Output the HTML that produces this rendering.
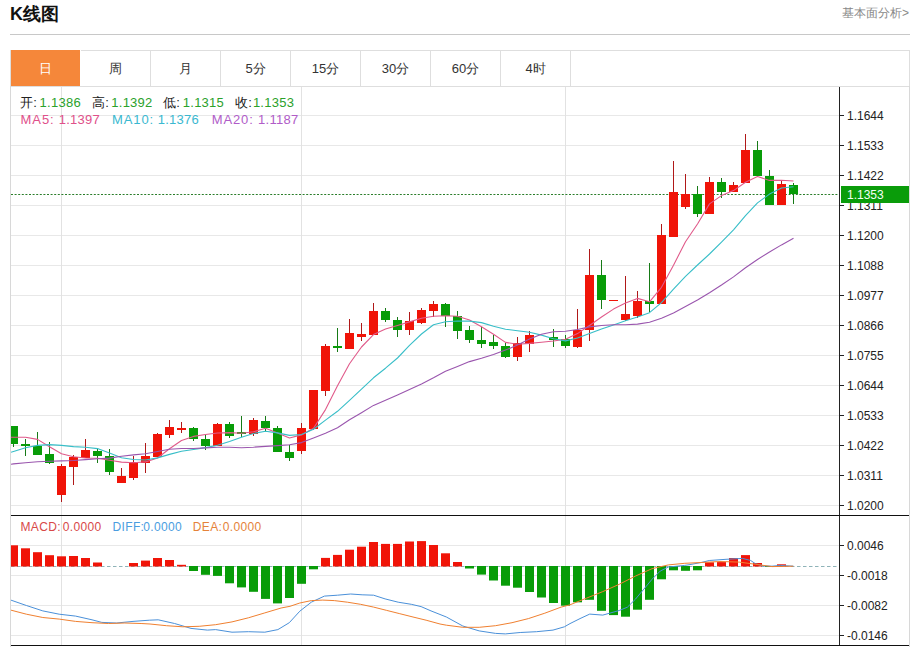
<!DOCTYPE html>
<html><head><meta charset="utf-8"><style>
html,body{margin:0;padding:0;background:#fff;width:915px;height:647px;overflow:hidden;}
body{position:relative;font-family:"Liberation Sans",sans-serif;}
.title{position:absolute;left:10px;top:3px;font-size:18px;font-weight:bold;color:#111;line-height:22px;}
.more{position:absolute;right:6px;top:5px;font-size:12px;color:#888;line-height:16px;}
.hr{position:absolute;left:10px;top:34px;width:900px;height:1px;background:#c8c8c8;}
.tabs{position:absolute;left:10px;top:50px;width:898px;height:35px;border:1px solid #dedede;border-right:1px solid #dedede;}
.tab{position:absolute;top:0;height:35px;width:69px;border-right:1px solid #dedede;text-align:center;line-height:36px;font-size:13px;color:#333;}
.tab.on{background:#f5873a;color:#fff;border-right-color:#fff;top:-1px;height:36px;line-height:38px;}
.frame{position:absolute;left:10px;top:86px;width:898px;height:561px;border-left:1px solid #d8d8d8;border-right:1px solid #d8d8d8;}
svg{position:absolute;left:0;top:0;}
.ax{font-size:12px;fill:#222;font-family:"Liberation Sans",sans-serif;}
.info{position:absolute;font-size:13px;line-height:16px;white-space:pre;letter-spacing:0.25px;} .ls{letter-spacing:0.9px;} .ls8{letter-spacing:0.8px;}
.g{color:#2ba12b} .k{color:#222}
.m{position:absolute;font-size:12px;line-height:14px;white-space:pre;letter-spacing:0.35px;}
</style></head><body>
<div class="title">K线图</div>
<div class="more">基本面分析&gt;</div>
<div class="hr"></div>
<div class="tabs">
<div class="tab on" style="left:0">日</div>
<div class="tab" style="left:70px">周</div>
<div class="tab" style="left:140px">月</div>
<div class="tab" style="left:210px">5分</div>
<div class="tab" style="left:280px">15分</div>
<div class="tab" style="left:350px">30分</div>
<div class="tab" style="left:420px">60分</div>
<div class="tab" style="left:490px">4时</div>
</div>
<div class="frame"></div>
<svg width="915" height="647" viewBox="0 0 915 647">
<rect x="11" y="115" width="828" height="1" fill="#e8e8e8"/>
<rect x="11" y="145" width="828" height="1" fill="#e8e8e8"/>
<rect x="11" y="175" width="828" height="1" fill="#e8e8e8"/>
<rect x="11" y="205" width="828" height="1" fill="#e8e8e8"/>
<rect x="11" y="235" width="828" height="1" fill="#e8e8e8"/>
<rect x="11" y="265" width="828" height="1" fill="#e8e8e8"/>
<rect x="11" y="295" width="828" height="1" fill="#e8e8e8"/>
<rect x="11" y="325" width="828" height="1" fill="#e8e8e8"/>
<rect x="11" y="355" width="828" height="1" fill="#e8e8e8"/>
<rect x="11" y="385" width="828" height="1" fill="#e8e8e8"/>
<rect x="11" y="415" width="828" height="1" fill="#e8e8e8"/>
<rect x="11" y="445" width="828" height="1" fill="#e8e8e8"/>
<rect x="11" y="475" width="828" height="1" fill="#e8e8e8"/>
<rect x="11" y="505" width="828" height="1" fill="#e8e8e8"/>
<rect x="11" y="545" width="828" height="1" fill="#e8e8e8"/>
<rect x="11" y="575" width="828" height="1" fill="#e8e8e8"/>
<rect x="11" y="605" width="828" height="1" fill="#e8e8e8"/>
<rect x="11" y="635" width="828" height="1" fill="#e8e8e8"/>
<rect x="61" y="87" width="1" height="558" fill="#e2e2e2"/>
<rect x="301" y="87" width="1" height="558" fill="#e2e2e2"/>
<rect x="565" y="87" width="1" height="558" fill="#e2e2e2"/>
<line x1="11" y1="194.5" x2="839" y2="194.5" stroke="#2a7d2a" stroke-width="1" stroke-dasharray="2,1.6"/>
<line x1="11" y1="566.5" x2="839" y2="566.5" stroke="#8fb3b8" stroke-width="1" stroke-dasharray="3.5,2.5"/>
<defs><clipPath id="cp"><rect x="11" y="87" width="828" height="428"/></clipPath><clipPath id="cp2"><rect x="11" y="516" width="828" height="129"/></clipPath></defs>
<g clip-path="url(#cp)">
<rect x="13" y="426" width="1" height="21" fill="#167a16"/>
<rect x="9" y="426" width="9" height="18" fill="#089c08"/>
<rect x="25" y="439" width="1" height="17" fill="#167a16"/>
<rect x="21" y="444" width="9" height="2" fill="#089c08"/>
<rect x="37" y="432" width="1" height="23" fill="#167a16"/>
<rect x="33" y="446" width="9" height="9" fill="#089c08"/>
<rect x="49" y="442" width="1" height="22" fill="#167a16"/>
<rect x="45" y="454" width="9" height="9" fill="#089c08"/>
<rect x="61" y="464" width="1" height="38" fill="#b01818"/>
<rect x="57" y="466" width="9" height="29" fill="#f01408"/>
<rect x="73" y="455" width="1" height="30" fill="#b01818"/>
<rect x="69" y="457" width="9" height="10" fill="#f01408"/>
<rect x="85" y="439" width="1" height="19" fill="#b01818"/>
<rect x="81" y="450" width="9" height="8" fill="#f01408"/>
<rect x="97" y="449" width="1" height="14" fill="#167a16"/>
<rect x="93" y="451" width="9" height="5" fill="#089c08"/>
<rect x="109" y="449" width="1" height="26" fill="#167a16"/>
<rect x="105" y="456" width="9" height="16" fill="#089c08"/>
<rect x="121" y="468" width="1" height="15" fill="#b01818"/>
<rect x="117" y="476" width="9" height="7" fill="#f01408"/>
<rect x="133" y="456" width="1" height="24" fill="#b01818"/>
<rect x="129" y="462" width="9" height="16" fill="#f01408"/>
<rect x="145" y="443" width="1" height="30" fill="#b01818"/>
<rect x="141" y="456" width="9" height="7" fill="#f01408"/>
<rect x="157" y="433" width="1" height="24" fill="#b01818"/>
<rect x="153" y="434" width="9" height="23" fill="#f01408"/>
<rect x="169" y="420" width="1" height="18" fill="#b01818"/>
<rect x="165" y="427" width="9" height="8" fill="#f01408"/>
<rect x="181" y="422" width="1" height="11" fill="#b01818"/>
<rect x="177" y="428" width="9" height="2" fill="#f01408"/>
<rect x="193" y="427" width="1" height="14" fill="#167a16"/>
<rect x="189" y="428" width="9" height="11" fill="#089c08"/>
<rect x="205" y="434" width="1" height="16" fill="#167a16"/>
<rect x="201" y="439" width="9" height="7" fill="#089c08"/>
<rect x="217" y="423" width="1" height="23" fill="#b01818"/>
<rect x="213" y="424" width="9" height="22" fill="#f01408"/>
<rect x="229" y="422" width="1" height="16" fill="#167a16"/>
<rect x="225" y="424" width="9" height="12" fill="#089c08"/>
<rect x="241" y="416" width="1" height="21" fill="#167a16"/>
<rect x="237" y="432" width="9" height="2" fill="#089c08"/>
<rect x="253" y="418" width="1" height="18" fill="#b01818"/>
<rect x="249" y="420" width="9" height="14" fill="#f01408"/>
<rect x="265" y="416" width="1" height="15" fill="#167a16"/>
<rect x="261" y="421" width="9" height="7" fill="#089c08"/>
<rect x="277" y="426" width="1" height="26" fill="#167a16"/>
<rect x="273" y="428" width="9" height="24" fill="#089c08"/>
<rect x="289" y="445" width="1" height="16" fill="#167a16"/>
<rect x="285" y="452" width="9" height="6" fill="#089c08"/>
<rect x="301" y="423" width="1" height="31" fill="#b01818"/>
<rect x="297" y="428" width="9" height="23" fill="#f01408"/>
<rect x="313" y="390" width="1" height="40" fill="#b01818"/>
<rect x="309" y="390" width="9" height="39" fill="#f01408"/>
<rect x="325" y="344" width="1" height="52" fill="#b01818"/>
<rect x="321" y="346" width="9" height="45" fill="#f01408"/>
<rect x="337" y="328" width="1" height="24" fill="#167a16"/>
<rect x="333" y="346" width="9" height="2" fill="#089c08"/>
<rect x="349" y="319" width="1" height="30" fill="#b01818"/>
<rect x="345" y="333" width="9" height="16" fill="#f01408"/>
<rect x="361" y="323" width="1" height="18" fill="#b01818"/>
<rect x="357" y="334" width="9" height="3" fill="#f01408"/>
<rect x="373" y="303" width="1" height="32" fill="#b01818"/>
<rect x="369" y="311" width="9" height="24" fill="#f01408"/>
<rect x="385" y="308" width="1" height="14" fill="#167a16"/>
<rect x="381" y="311" width="9" height="9" fill="#089c08"/>
<rect x="397" y="317" width="1" height="20" fill="#167a16"/>
<rect x="393" y="320" width="9" height="10" fill="#089c08"/>
<rect x="409" y="312" width="1" height="23" fill="#b01818"/>
<rect x="405" y="321" width="9" height="9" fill="#f01408"/>
<rect x="421" y="308" width="1" height="16" fill="#b01818"/>
<rect x="417" y="310" width="9" height="13" fill="#f01408"/>
<rect x="433" y="301" width="1" height="16" fill="#b01818"/>
<rect x="429" y="304" width="9" height="7" fill="#f01408"/>
<rect x="445" y="303" width="1" height="24" fill="#167a16"/>
<rect x="441" y="304" width="9" height="12" fill="#089c08"/>
<rect x="457" y="311" width="1" height="28" fill="#167a16"/>
<rect x="453" y="316" width="9" height="15" fill="#089c08"/>
<rect x="469" y="326" width="1" height="17" fill="#167a16"/>
<rect x="465" y="330" width="9" height="10" fill="#089c08"/>
<rect x="481" y="327" width="1" height="21" fill="#167a16"/>
<rect x="477" y="340" width="9" height="4" fill="#089c08"/>
<rect x="493" y="335" width="1" height="14" fill="#167a16"/>
<rect x="489" y="342" width="9" height="4" fill="#089c08"/>
<rect x="505" y="343" width="1" height="15" fill="#167a16"/>
<rect x="501" y="346" width="9" height="11" fill="#089c08"/>
<rect x="517" y="337" width="1" height="24" fill="#b01818"/>
<rect x="513" y="343" width="9" height="14" fill="#f01408"/>
<rect x="529" y="331" width="1" height="21" fill="#b01818"/>
<rect x="525" y="335" width="9" height="9" fill="#f01408"/>
<rect x="553" y="329" width="1" height="18" fill="#167a16"/>
<rect x="549" y="337" width="9" height="3" fill="#089c08"/>
<rect x="565" y="335" width="1" height="13" fill="#167a16"/>
<rect x="561" y="339" width="9" height="7" fill="#089c08"/>
<rect x="577" y="309" width="1" height="39" fill="#b01818"/>
<rect x="573" y="330" width="9" height="17" fill="#f01408"/>
<rect x="589" y="249" width="1" height="92" fill="#b01818"/>
<rect x="585" y="275" width="9" height="55" fill="#f01408"/>
<rect x="601" y="260" width="1" height="49" fill="#167a16"/>
<rect x="597" y="275" width="9" height="25" fill="#089c08"/>
<rect x="613" y="300" width="1" height="1" fill="#b01818"/>
<rect x="609" y="300" width="9" height="1" fill="#f01408"/>
<rect x="625" y="276" width="1" height="45" fill="#b01818"/>
<rect x="621" y="314" width="9" height="6" fill="#f01408"/>
<rect x="637" y="291" width="1" height="27" fill="#b01818"/>
<rect x="633" y="301" width="9" height="15" fill="#f01408"/>
<rect x="649" y="263" width="1" height="49" fill="#167a16"/>
<rect x="645" y="301" width="9" height="3" fill="#089c08"/>
<rect x="661" y="224" width="1" height="80" fill="#b01818"/>
<rect x="657" y="235" width="9" height="69" fill="#f01408"/>
<rect x="673" y="161" width="1" height="76" fill="#b01818"/>
<rect x="669" y="192" width="9" height="45" fill="#f01408"/>
<rect x="685" y="174" width="1" height="35" fill="#b01818"/>
<rect x="681" y="194" width="9" height="13" fill="#f01408"/>
<rect x="697" y="186" width="1" height="31" fill="#167a16"/>
<rect x="693" y="194" width="9" height="20" fill="#089c08"/>
<rect x="709" y="177" width="1" height="37" fill="#b01818"/>
<rect x="705" y="182" width="9" height="32" fill="#f01408"/>
<rect x="721" y="178" width="1" height="20" fill="#167a16"/>
<rect x="717" y="182" width="9" height="10" fill="#089c08"/>
<rect x="733" y="182" width="1" height="10" fill="#b01818"/>
<rect x="729" y="185" width="9" height="7" fill="#f01408"/>
<rect x="745" y="134" width="1" height="49" fill="#b01818"/>
<rect x="741" y="150" width="9" height="33" fill="#f01408"/>
<rect x="757" y="141" width="1" height="35" fill="#167a16"/>
<rect x="753" y="150" width="9" height="26" fill="#089c08"/>
<rect x="769" y="170" width="1" height="35" fill="#167a16"/>
<rect x="765" y="176" width="9" height="29" fill="#089c08"/>
<rect x="781" y="181" width="1" height="24" fill="#b01818"/>
<rect x="777" y="184" width="9" height="21" fill="#f01408"/>
<rect x="793" y="183" width="1" height="21" fill="#167a16"/>
<rect x="789" y="185" width="9" height="9" fill="#089c08"/>
<polyline points="11.0,437.3 13.5,437.3 25.5,437.3 37.5,439.4 49.5,446.8 61.5,453.7 73.5,456.7 85.5,458.0 97.5,458.3 109.5,460.2 121.5,462.1 133.5,462.7 145.5,461.9 157.5,458.0 169.5,448.7 181.5,440.5 193.5,436.4 205.5,434.5 217.5,433.0 229.5,432.6 241.5,433.3 253.5,431.7 265.5,428.2 277.5,433.0 289.5,438.0 301.5,434.9 313.5,428.3 325.5,409.6 337.5,385.7 349.5,363.7 361.5,347.0 373.5,334.6 385.5,329.0 397.5,325.5 409.5,321.9 421.5,318.3 433.5,316.2 445.5,315.8 457.5,316.2 469.5,320.0 481.5,326.8 493.5,334.3 505.5,342.4 517.5,344.2 529.5,343.4 541.5,342.2 553.5,341.0 565.5,339.3 577.5,333.6 589.5,325.5 601.5,317.0 613.5,309.1 625.5,303.1 637.5,298.4 649.5,301.8 661.5,287.3 673.5,265.2 685.5,241.7 697.5,224.0 709.5,203.9 721.5,195.6 733.5,190.6 745.5,182.3 757.5,176.6 769.5,180.4 781.5,180.2 793.5,181.0" fill="none" stroke="#e05a8a" stroke-width="1.1" stroke-linejoin="round"/>
<polyline points="11.0,452.3 13.5,451.5 25.5,447.8 37.5,445.4 49.5,444.6 61.5,445.4 73.5,446.6 85.5,447.3 97.5,448.6 109.5,452.9 121.5,457.7 133.5,459.5 145.5,460.0 157.5,457.9 169.5,454.4 181.5,451.3 193.5,449.5 205.5,447.6 217.5,445.2 229.5,441.4 241.5,437.2 253.5,433.5 265.5,431.2 277.5,432.9 289.5,435.4 301.5,434.5 313.5,429.2 325.5,420.1 337.5,411.3 349.5,400.4 361.5,389.1 373.5,377.8 385.5,368.2 397.5,358.0 409.5,345.4 421.5,334.0 433.5,324.8 445.5,321.8 457.5,321.0 469.5,321.1 481.5,322.6 493.5,326.2 505.5,329.2 517.5,330.8 529.5,332.3 541.5,335.1 553.5,338.7 565.5,340.9 577.5,338.0 589.5,333.4 601.5,329.1 613.5,324.9 625.5,320.7 637.5,317.0 649.5,312.7 661.5,302.7 673.5,289.1 685.5,276.4 697.5,265.0 709.5,254.0 721.5,242.1 733.5,229.8 745.5,215.6 757.5,202.9 769.5,194.1 781.5,188.0 793.5,186.8" fill="none" stroke="#38bec8" stroke-width="1.1" stroke-linejoin="round"/>
<polyline points="11.0,464.2 13.5,463.9 25.5,462.7 37.5,461.7 49.5,461.2 61.5,460.9 73.5,460.5 85.5,459.6 97.5,458.8 109.5,458.1 121.5,456.2 133.5,454.9 145.5,453.8 157.5,451.5 169.5,449.3 181.5,448.5 193.5,448.5 205.5,447.9 217.5,447.2 229.5,447.3 241.5,447.7 253.5,447.2 265.5,446.4 277.5,445.6 289.5,444.8 301.5,442.6 313.5,438.1 325.5,433.3 337.5,427.8 349.5,419.8 361.5,412.7 373.5,405.4 385.5,400.3 397.5,394.9 409.5,389.5 421.5,383.9 433.5,377.8 445.5,371.3 457.5,366.4 469.5,361.6 481.5,358.2 493.5,354.5 505.5,350.1 517.5,345.1 529.5,339.1 541.5,334.2 553.5,331.8 565.5,331.2 577.5,329.5 589.5,326.9 601.5,325.5 613.5,324.8 625.5,324.8 637.5,324.1 649.5,322.3 661.5,318.3 673.5,313.1 685.5,306.6 697.5,300.0 709.5,292.7 721.5,285.0 733.5,276.9 745.5,267.8 757.5,259.5 769.5,252.0 781.5,244.9 793.5,238.2" fill="none" stroke="#9a56ae" stroke-width="1.1" stroke-linejoin="round"/>
</g>
<g clip-path="url(#cp2)">
<rect x="9" y="545.3" width="9" height="21.2" fill="#f01408"/>
<rect x="21" y="548.3" width="9" height="18.2" fill="#f01408"/>
<rect x="33" y="552.2" width="9" height="14.3" fill="#f01408"/>
<rect x="45" y="555.2" width="9" height="11.3" fill="#f01408"/>
<rect x="57" y="556.3" width="9" height="10.2" fill="#f01408"/>
<rect x="69" y="556.0" width="9" height="10.5" fill="#f01408"/>
<rect x="81" y="558.0" width="9" height="8.5" fill="#f01408"/>
<rect x="93" y="562.5" width="9" height="4.0" fill="#f01408"/>
<rect x="129" y="563.0" width="9" height="3.5" fill="#f01408"/>
<rect x="141" y="560.6" width="9" height="5.9" fill="#f01408"/>
<rect x="153" y="558.0" width="9" height="8.5" fill="#f01408"/>
<rect x="165" y="560.0" width="9" height="6.5" fill="#f01408"/>
<rect x="177" y="564.8" width="9" height="1.7" fill="#f01408"/>
<rect x="189" y="566" width="9" height="5.0" fill="#089c08"/>
<rect x="201" y="566" width="9" height="8.8" fill="#089c08"/>
<rect x="213" y="566" width="9" height="9.9" fill="#089c08"/>
<rect x="225" y="566" width="9" height="17.3" fill="#089c08"/>
<rect x="237" y="566" width="9" height="21.4" fill="#089c08"/>
<rect x="249" y="566" width="9" height="25.8" fill="#089c08"/>
<rect x="261" y="566" width="9" height="32.9" fill="#089c08"/>
<rect x="273" y="566" width="9" height="37.4" fill="#089c08"/>
<rect x="285" y="566" width="9" height="32.0" fill="#089c08"/>
<rect x="297" y="566" width="9" height="17.8" fill="#089c08"/>
<rect x="309" y="566" width="9" height="3.3" fill="#089c08"/>
<rect x="321" y="557.9" width="9" height="8.6" fill="#f01408"/>
<rect x="333" y="554.9" width="9" height="11.6" fill="#f01408"/>
<rect x="345" y="549.7" width="9" height="16.8" fill="#f01408"/>
<rect x="357" y="546.7" width="9" height="19.8" fill="#f01408"/>
<rect x="369" y="542.0" width="9" height="24.5" fill="#f01408"/>
<rect x="381" y="543.9" width="9" height="22.6" fill="#f01408"/>
<rect x="393" y="543.9" width="9" height="22.6" fill="#f01408"/>
<rect x="405" y="541.5" width="9" height="25.0" fill="#f01408"/>
<rect x="417" y="541.1" width="9" height="25.4" fill="#f01408"/>
<rect x="429" y="545.0" width="9" height="21.5" fill="#f01408"/>
<rect x="441" y="553.3" width="9" height="13.2" fill="#f01408"/>
<rect x="453" y="562.0" width="9" height="4.5" fill="#f01408"/>
<rect x="465" y="566" width="9" height="2.5" fill="#089c08"/>
<rect x="477" y="566" width="9" height="8.6" fill="#089c08"/>
<rect x="489" y="566" width="9" height="14.5" fill="#089c08"/>
<rect x="501" y="566" width="9" height="19.7" fill="#089c08"/>
<rect x="513" y="566" width="9" height="21.7" fill="#089c08"/>
<rect x="525" y="566" width="9" height="26.0" fill="#089c08"/>
<rect x="537" y="566" width="9" height="31.5" fill="#089c08"/>
<rect x="549" y="566" width="9" height="37.0" fill="#089c08"/>
<rect x="561" y="566" width="9" height="39.7" fill="#089c08"/>
<rect x="573" y="566" width="9" height="36.3" fill="#089c08"/>
<rect x="585" y="566" width="9" height="33.8" fill="#089c08"/>
<rect x="597" y="566" width="9" height="44.8" fill="#089c08"/>
<rect x="609" y="566" width="9" height="49.1" fill="#089c08"/>
<rect x="621" y="566" width="9" height="50.7" fill="#089c08"/>
<rect x="633" y="566" width="9" height="43.7" fill="#089c08"/>
<rect x="645" y="566" width="9" height="33.8" fill="#089c08"/>
<rect x="657" y="566" width="9" height="13.3" fill="#089c08"/>
<rect x="669" y="566" width="9" height="4.3" fill="#089c08"/>
<rect x="681" y="566" width="9" height="4.8" fill="#089c08"/>
<rect x="693" y="566" width="9" height="4.3" fill="#089c08"/>
<rect x="705" y="562.3" width="9" height="4.2" fill="#f01408"/>
<rect x="717" y="562.1" width="9" height="4.4" fill="#f01408"/>
<rect x="729" y="558.0" width="9" height="8.5" fill="#f01408"/>
<rect x="741" y="555.1" width="9" height="11.4" fill="#f01408"/>
<rect x="753" y="563.0" width="9" height="3.5" fill="#f01408"/>
<rect x="765" y="566" width="9" height="1.0" fill="#089c08"/>
<rect x="777" y="564.3" width="9" height="2.2" fill="#f01408"/>
<polyline points="10.0,599.8 26.4,605.5 42.8,610.9 59.2,614.2 75.6,616.1 92.0,619.8 101.8,622.4 116.6,623.0 133.0,621.4 149.3,620.2 158.2,619.8 174.6,623.5 191.0,628.4 207.4,630.1 215.6,629.6 232.0,632.2 248.4,631.7 264.8,632.2 277.9,629.6 289.3,622.7 299.8,611.2 311.3,602.2 324.4,596.1 337.5,595.2 350.7,594.0 362.1,594.8 373.6,595.2 385.1,598.9 398.2,602.2 411.3,604.3 421.1,606.6 431.0,610.9 446.4,617.0 462.8,626.0 479.2,630.9 495.6,633.4 505.4,633.9 520.2,632.5 536.6,631.7 553.0,630.1 564.4,626.8 570.0,623.6 580.0,618.6 589.7,614.1 602.8,615.1 619.2,610.5 627.4,607.2 635.6,599.0 643.8,589.2 652.0,579.3 660.2,571.1 668.4,567.0 684.8,565.4 690.0,564.6 701.1,562.5 709.3,560.5 726.0,559.3 742.5,558.4 750.7,560.5 755.6,563.8 763.8,565.9 772.0,566.2 780.2,565.4 793.3,566.2" fill="none" stroke="#4a90d9" stroke-width="1.0" stroke-linejoin="round"/>
<polyline points="10.0,609.9 26.4,614.2 42.8,617.5 59.2,619.1 75.6,621.4 92.0,622.7 108.4,623.5 124.8,623.0 141.1,623.5 150.0,624.0 166.4,625.7 182.8,626.8 199.2,626.3 215.6,624.7 232.0,621.9 248.4,617.8 264.8,612.9 281.1,608.0 290.0,606.3 299.8,603.0 311.3,600.6 322.8,600.1 334.3,600.6 347.4,602.2 360.5,604.3 373.6,607.1 386.7,610.4 399.8,613.7 413.0,617.0 426.1,620.2 440.0,624.0 446.4,625.2 462.8,627.3 479.2,627.3 495.6,625.7 512.0,622.7 528.4,618.6 544.8,613.2 561.1,607.1 570.0,604.8 586.4,598.2 602.8,591.6 619.2,584.3 635.6,576.0 652.0,568.7 668.4,564.9 684.8,563.3 701.1,562.5 720.0,561.5 739.2,562.1 755.6,564.3 772.0,566.6 793.3,566.2" fill="none" stroke="#f08030" stroke-width="1.0" stroke-linejoin="round"/>
</g>
<rect x="839" y="87" width="1" height="559" fill="#222"/>
<rect x="11" y="515" width="898" height="1" fill="#111"/>
<rect x="11" y="645" width="898" height="1" fill="#111"/>
<rect x="840" y="115" width="4" height="1" fill="#222"/>
<text x="847" y="119.5" class="ax">1.1644</text>
<rect x="840" y="145" width="4" height="1" fill="#222"/>
<text x="847" y="149.5" class="ax">1.1533</text>
<rect x="840" y="175" width="4" height="1" fill="#222"/>
<text x="847" y="179.5" class="ax">1.1422</text>
<rect x="840" y="205" width="4" height="1" fill="#222"/>
<text x="847" y="209.5" class="ax">1.1311</text>
<rect x="840" y="235" width="4" height="1" fill="#222"/>
<text x="847" y="239.5" class="ax">1.1200</text>
<rect x="840" y="265" width="4" height="1" fill="#222"/>
<text x="847" y="269.5" class="ax">1.1088</text>
<rect x="840" y="295" width="4" height="1" fill="#222"/>
<text x="847" y="299.5" class="ax">1.0977</text>
<rect x="840" y="325" width="4" height="1" fill="#222"/>
<text x="847" y="329.5" class="ax">1.0866</text>
<rect x="840" y="355" width="4" height="1" fill="#222"/>
<text x="847" y="359.5" class="ax">1.0755</text>
<rect x="840" y="385" width="4" height="1" fill="#222"/>
<text x="847" y="389.5" class="ax">1.0644</text>
<rect x="840" y="415" width="4" height="1" fill="#222"/>
<text x="847" y="419.5" class="ax">1.0533</text>
<rect x="840" y="445" width="4" height="1" fill="#222"/>
<text x="847" y="449.5" class="ax">1.0422</text>
<rect x="840" y="475" width="4" height="1" fill="#222"/>
<text x="847" y="479.5" class="ax">1.0311</text>
<rect x="840" y="505" width="4" height="1" fill="#222"/>
<text x="847" y="509.5" class="ax">1.0200</text>
<rect x="840" y="545" width="4" height="1" fill="#222"/>
<text x="847" y="549.5" class="ax">0.0046</text>
<rect x="840" y="575" width="4" height="1" fill="#222"/>
<text x="847" y="579.5" class="ax">-0.0018</text>
<rect x="840" y="605" width="4" height="1" fill="#222"/>
<text x="847" y="609.5" class="ax">-0.0082</text>
<rect x="840" y="635" width="4" height="1" fill="#222"/>
<text x="847" y="639.5" class="ax">-0.0146</text>
<rect x="841" y="186" width="68" height="17" fill="#0a9c0a"/>
<text x="847" y="199" class="ax" style="fill:#f4fff4">1.1353</text>
</svg>
<div class="info k" style="left:20px;top:95px">开:</div><div class="info g" style="left:39.6px;top:95px">1.1386</div>
<div class="info k" style="left:92px;top:95px">高:</div><div class="info g" style="left:111.3px;top:95px">1.1392</div>
<div class="info k" style="left:163px;top:95px">低:</div><div class="info g" style="left:182.8px;top:95px">1.1315</div>
<div class="info k" style="left:235px;top:95px">收:</div><div class="info g" style="left:252.9px;top:95px">1.1353</div>
<div class="info ls" style="left:20.6px;top:112px;color:#e0508a">MA5:</div><div class="info" style="left:58.7px;top:112px;color:#e0508a">1.1397</div>
<div class="info ls" style="left:112px;top:112px;color:#3ab8d0">MA10:</div><div class="info" style="left:157.7px;top:112px;color:#3ab8d0">1.1376</div>
<div class="info ls" style="left:211.7px;top:112px;color:#b05cc8">MA20:</div><div class="info" style="left:258.1px;top:112px;color:#b05cc8">1.1187</div>
<div class="m ls8" style="left:20.5px;top:520px;color:#d84848">MACD:</div><div class="m" style="left:62.7px;top:520px;color:#d84848">0.0000</div>
<div class="m ls8" style="left:112.5px;top:520px;color:#4a9de0">DIFF:</div><div class="m" style="left:143.2px;top:520px;color:#4a9de0">0.0000</div>
<div class="m ls8" style="left:192.8px;top:520px;color:#e5823a">DEA:</div><div class="m" style="left:222.8px;top:520px;color:#e5823a">0.0000</div>
</body></html>
